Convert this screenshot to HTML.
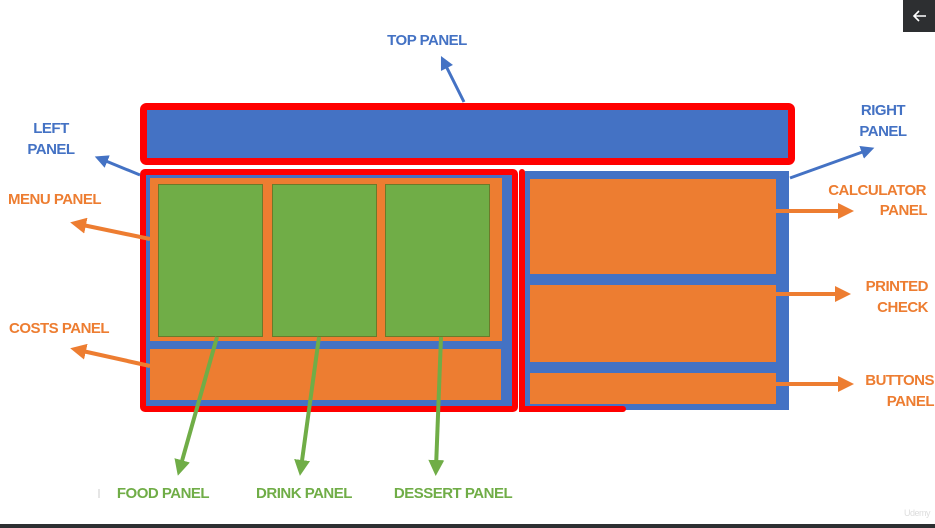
<!DOCTYPE html>
<html><head><meta charset="utf-8"><style>
html,body{margin:0;padding:0;background:#fff;}
svg{display:block;}
text{font-family:"Liberation Sans",sans-serif;font-weight:bold;font-size:15px;letter-spacing:-0.5px;}
</style></head><body>
<svg width="935" height="528" viewBox="0 0 935 528" xmlns="http://www.w3.org/2000/svg">
<defs>
<marker id="ab" viewBox="0 0 10 10" refX="5" refY="5" markerWidth="4.5" markerHeight="4.5" orient="auto"><path d="M0,0L10,5L0,10z" fill="#4472c4"/></marker>
<marker id="ao" viewBox="0 0 10 10" refX="5" refY="5" markerWidth="4" markerHeight="4" orient="auto"><path d="M0,0L10,5L0,10z" fill="#ed7d31"/></marker>
<marker id="ag" viewBox="0 0 10 10" refX="5" refY="5" markerWidth="4" markerHeight="4" orient="auto"><path d="M0,0L10,5L0,10z" fill="#70ad47"/></marker>
</defs>
<rect width="935" height="528" fill="#fff"/>
<rect x="143.5" y="106.5" width="648" height="55" rx="3" fill="#4472c4" stroke="#ff0000" stroke-width="7"/>
<rect x="143" y="172" width="372" height="237" rx="2" fill="#4472c4" stroke="#ff0000" stroke-width="6"/>
<rect x="150" y="178" width="352" height="163" fill="#ed7d31"/>
<rect x="158.5" y="184.5" width="104" height="152" fill="#70ad47" stroke="#6b7a2a" stroke-width="1"/>
<rect x="272.5" y="184.5" width="104" height="152" fill="#70ad47" stroke="#6b7a2a" stroke-width="1"/>
<rect x="385.5" y="184.5" width="104" height="152" fill="#70ad47" stroke="#6b7a2a" stroke-width="1"/>
<rect x="150" y="349" width="351" height="51" fill="#ed7d31"/>
<rect x="525" y="171" width="264" height="239" fill="#4472c4"/>
<rect x="530" y="179" width="246" height="95" fill="#ed7d31"/>
<rect x="530" y="285" width="246" height="77" fill="#ed7d31"/>
<rect x="530" y="373" width="246" height="31" fill="#ed7d31"/>
<path d="M522,172V409H623" fill="none" stroke="#ff0000" stroke-width="6" stroke-linecap="round"/>
<line x1="464" y1="102" x2="444" y2="62" stroke="#4472c4" stroke-width="3" marker-end="url(#ab)"/>
<line x1="140" y1="175" x2="101" y2="159" stroke="#4472c4" stroke-width="3" marker-end="url(#ab)"/>
<line x1="790" y1="178" x2="868" y2="150" stroke="#4472c4" stroke-width="3" marker-end="url(#ab)"/>
<line x1="150" y1="239" x2="78" y2="224" stroke="#ed7d31" stroke-width="4" marker-end="url(#ao)"/>
<line x1="150" y1="366" x2="78" y2="350" stroke="#ed7d31" stroke-width="4" marker-end="url(#ao)"/>
<line x1="776" y1="211" x2="846" y2="211" stroke="#ed7d31" stroke-width="4" marker-end="url(#ao)"/>
<line x1="776" y1="294" x2="843" y2="294" stroke="#ed7d31" stroke-width="4" marker-end="url(#ao)"/>
<line x1="776" y1="384" x2="846" y2="384" stroke="#ed7d31" stroke-width="4" marker-end="url(#ao)"/>
<line x1="217" y1="337" x2="180" y2="468" stroke="#70ad47" stroke-width="4" marker-end="url(#ag)"/>
<line x1="319" y1="337" x2="301" y2="468" stroke="#70ad47" stroke-width="4" marker-end="url(#ag)"/>
<line x1="441" y1="337" x2="436" y2="468" stroke="#70ad47" stroke-width="4" marker-end="url(#ag)"/>
<text x="427" y="45" fill="#4472c4" text-anchor="middle">TOP PANEL</text>
<text x="51" y="133" fill="#4472c4" text-anchor="middle">LEFT</text>
<text x="51" y="154" fill="#4472c4" text-anchor="middle">PANEL</text>
<text x="883" y="115" fill="#4472c4" text-anchor="middle">RIGHT</text>
<text x="883" y="136" fill="#4472c4" text-anchor="middle">PANEL</text>
<text x="8" y="204" fill="#ed7d31">MENU PANEL</text>
<text x="9" y="333" fill="#ed7d31">COSTS PANEL</text>
<text x="926" y="195" fill="#ed7d31" text-anchor="end">CALCULATOR</text>
<text x="927" y="215" fill="#ed7d31" text-anchor="end">PANEL</text>
<text x="928" y="291" fill="#ed7d31" text-anchor="end">PRINTED</text>
<text x="928" y="312" fill="#ed7d31" text-anchor="end">CHECK</text>
<text x="934" y="385" fill="#ed7d31" text-anchor="end">BUTTONS</text>
<text x="934" y="406" fill="#ed7d31" text-anchor="end">PANEL</text>
<text x="163" y="498" fill="#70ad47" text-anchor="middle">FOOD PANEL</text>
<text x="304" y="498" fill="#70ad47" text-anchor="middle">DRINK PANEL</text>
<text x="453" y="498" fill="#70ad47" text-anchor="middle">DESSERT PANEL</text>
<line x1="99" y1="489" x2="99" y2="498" stroke="#ccc" stroke-width="1"/>
<g>
<rect x="903" y="0" width="32" height="32" fill="#2d2f31"/>
<path d="M926,16H914M919,11L914,16L919,21" stroke="#fff" stroke-width="1.6" fill="none"/>
</g>
<text x="930" y="516" fill="#ddd" text-anchor="end" style="font-size:9px;font-weight:normal">Udemy</text>
<rect x="0" y="524" width="935" height="4" fill="#2d2f31"/>
</svg>
</body></html>
